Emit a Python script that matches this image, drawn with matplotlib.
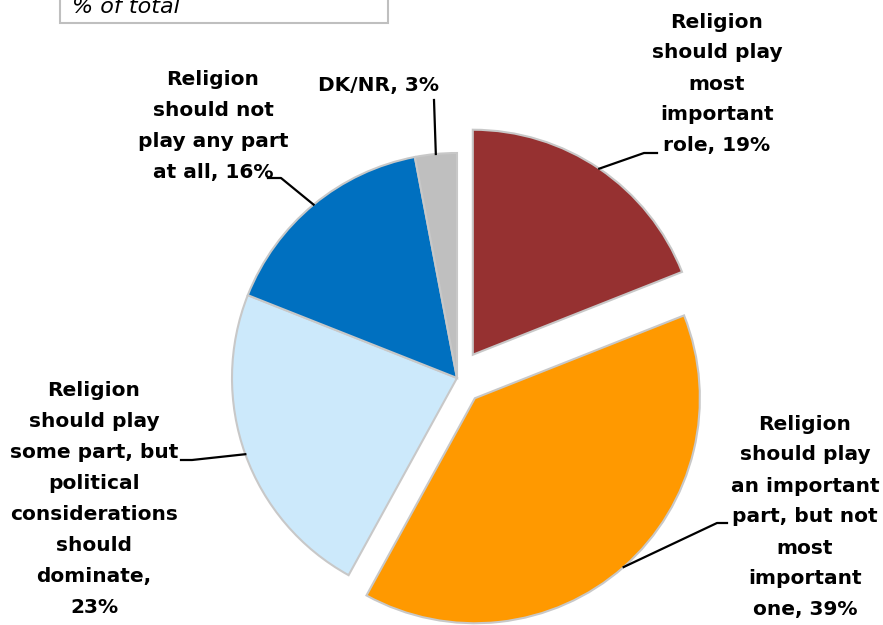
import matplotlib
matplotlib.use("Agg")
import matplotlib.pyplot as plt
import numpy as np
from matplotlib.patches import Rectangle

# data, clockwise from 12 o'clock
labels = ["Religion\nshould play\nmost\nimportant\nrole, 19%",
          "Religion\nshould play\nan important\npart, but not\nmost\nimportant\none, 39%",
          "Religion\nshould play\nsome part, but\npolitical\nconsiderations\nshould\ndominate,\n23%",
          "Religion\nshould not\nplay any part\nat all, 16%",
          "DK/NR, 3%"]
values = [19, 39, 23, 16, 3]
colors = ["#963131", "#FF9900", "#CCE9FB", "#0070C0", "#BFBFBF"]
explode = [0.125, 0.12, 0, 0, 0]

# label layout (pixel space, y up)
text_pos = [(717, 541), (805, 108), (94, 126), (213, 499), (378, 539)]
elbows = [[(644, 472), (657, 472)],
          [(717, 102), (727, 102)],
          [(192, 165), (181, 165)],
          [(281, 447), (268, 447)],
          [(434, 525)]]

W, H = 883, 625
cx, cy, R = 457, 247, 225

fig = plt.figure(figsize=(W / 100, H / 100), dpi=100)
ax = fig.add_axes([0, 0, 1, 1])

# pie's explode is in data units, so scale by radius
wedges, _ = ax.pie(values, colors=colors, explode=[e * R for e in explode],
                   startangle=90, counterclock=False, center=(cx, cy), radius=R,
                   wedgeprops=dict(edgecolor="#C8C8C8", linewidth=1.5))
ax.set_xlim(0, W)
ax.set_ylim(0, H)
ax.set_aspect("equal")
ax.axis("off")

for w, lab, tp, el in zip(wedges, labels, text_pos, elbows):
    ang = np.deg2rad((w.theta1 + w.theta2) / 2)
    wx, wy = w.center
    p0 = (wx + R * np.cos(ang), wy + R * np.sin(ang))
    pts = [p0] + el
    ax.plot([p[0] for p in pts], [p[1] for p in pts], color="black", lw=1.6)
    ax.text(tp[0], tp[1], lab, ha="center", va="center", fontsize=14.5,
            fontweight="bold", linespacing=1.8, color="black")

ax.add_patch(Rectangle((60, 602), 328, 40, facecolor="white",
                       edgecolor="#BFBFBF", lw=1.5, clip_on=False))
ax.text(72, 612, "% of total", fontsize=16, style="italic", va="baseline")

fig.savefig("out.png", dpi=100)
